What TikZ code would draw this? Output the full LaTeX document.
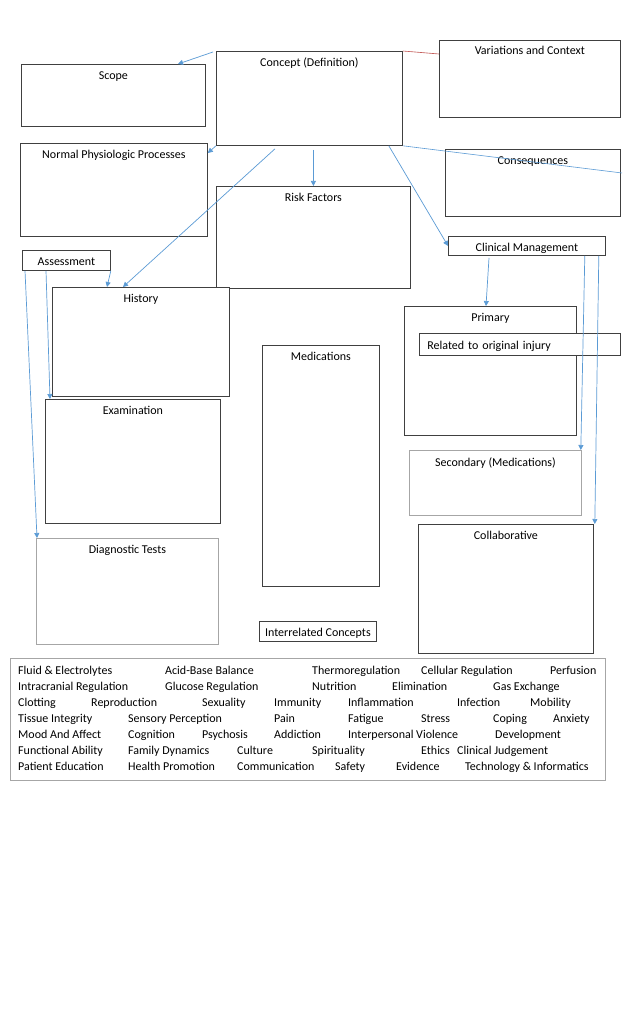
\documentclass[tikz,border=0pt]{standalone}
\usepackage{fontspec}
\setmainfont{Carlito}
\usepackage{tikz}
\usetikzlibrary{arrows.meta,positioning}
\definecolor{BoxLine}{HTML}{404040}
\definecolor{BoxGray}{HTML}{A6A6A6}
\definecolor{LinkBlue}{HTML}{5B9BD5}
\definecolor{LinkRed}{HTML}{C0504D}
\tikzset{
  box/.style={draw=BoxLine,line width=0.8pt,fill=white,anchor=north west,inner sep=0pt,text height=10.5pt,text depth=0pt},
  ttl/.style={inner sep=0pt,text height=8pt,text depth=2pt},
  item/.style={anchor=west,inner sep=0pt,text height=8pt,text depth=0pt},
  link/.style={draw=LinkBlue,line width=0.7pt,-{Triangle[length=5pt,width=5pt]}},
}
\begin{document}
\begin{tikzpicture}[x=1pt,y=-1pt,font=\fontsize{12}{14}\selectfont]
  \useasboundingbox[fill=white] (0,0) rectangle (622,1024);
  % top row
  \node[box,minimum width=184,minimum height=62] (scope) at (21,64) {};
  \node[box,minimum width=186,minimum height=94] (concept) at (216,51) {};
  \node[box,minimum width=181,minimum height=77] (var) at (439,40) {};
  \node[box,minimum width=187,minimum height=93] (normal) at (20,143) {};
  \node[box,minimum width=175,minimum height=67] (conseq) at (445,149) {};
  \node[box,minimum width=194,minimum height=102] (risk) at (216,186) {};
  \node[ttl,below=7pt of scope.north] (scopeT) {Scope};
  \node[ttl,below=7pt of concept.north] (conceptT) {Concept (Definition)};
  \node[ttl,below=6pt of var.north] (varT) {Variations and Context};
  \node[ttl,below=7pt of normal.north] (normalT) {Normal Physiologic Processes};
  \node[ttl,below=7pt of conseq.north] (conseqT) {Consequences};
  \node[ttl,below=7pt of risk.north] (riskT) {Risk Factors};
  % assessment side
  \node[box,minimum width=177,minimum height=109] (history) at (52,287) {};
  \node[box,minimum width=175,minimum height=124] (exam) at (45,399) {};
  \node[box,draw=BoxGray,minimum width=182,minimum height=106] (diag) at (36,538) {};
  \node[box,minimum width=88,minimum height=20] (assess) at (22,250) {Assessment};
  \node[ttl,below=7pt of history.north] (historyT) {History};
  \node[ttl,below=7pt of exam.north] (examT) {Examination};
  \node[ttl,below=7pt of diag.north] (diagT) {Diagnostic Tests};
  % middle
  \node[box,minimum width=117,minimum height=241] (meds) at (262,345) {};
  \node[ttl,below=7pt of meds.north] (medsT) {Medications};
  \node[box,minimum width=117,minimum height=20] (interrel) at (259,621) {Interrelated Concepts};
  % management side
  \node[box,minimum width=157,minimum height=19] (clinical) at (448,236) {Clinical Management};
  \node[box,minimum width=172,minimum height=129] (primary) at (404,306) {};
  \node[ttl,below=7pt of primary.north] (primaryT) {Primary};
  \node[box,minimum width=201,minimum height=22,text width=185,inner xsep=8pt,align=left] (related) at (419,333) {Related to original injury};
  \node[box,draw=BoxGray,minimum width=172,minimum height=65] (second) at (409,450) {};
  \node[ttl,below=8pt of second.north] (secondT) {Secondary (Medications)};
  \node[box,minimum width=175,minimum height=129] (collab) at (418,524) {};
  \node[ttl,below=7pt of collab.north] (collabT) {Collaborative};

  % connectors
  \draw[LinkRed,line width=0.6pt] (concept.north east) -- ([yshift=-14pt]var.north west);
  \draw[LinkBlue,line width=0.6pt] (concept.south east) -- (622,173) coordinate (conseqEnd);
  \draw[link] ([xshift=-3pt,yshift=-1pt]concept.north west) -- ([xshift=157pt]scope.north west);
  \draw[link] (concept.south west) -- ([yshift=-10pt]normal.north east);
  \draw[link] ([xshift=59pt,yshift=-3pt]concept.south west) -- ([xshift=71pt]history.north west);
  \draw[link] ([xshift=4pt,yshift=-4pt]concept.south) -- (risk.north);
  \draw[link] ([xshift=-14pt]concept.south east) -- (clinical.west);
  \draw[link] (assess.south east) -- ([xshift=55pt]history.north west);
  \draw[link] ([xshift=24pt]assess.south west) -- ([xshift=5pt]exam.north west);
  \draw[link] ([xshift=3pt]assess.south west) -- ([xshift=1pt]diag.north west);
  \draw[link] ([xshift=41pt,yshift=-2pt]clinical.south west) -- ([xshift=82pt]primary.north west);
  \draw[link] ([xshift=-21pt]clinical.south east) -- ([xshift=-1pt]second.north east);
  \draw[link] ([xshift=-7pt]clinical.south east) -- ([xshift=1pt]collab.north east);

  % interrelated concepts list
  \node[box,draw=BoxGray,minimum width=595,minimum height=122] (list) at (10,658) {};
  \foreach \cx/\cy/\ctext [count=\k] in {
    18/670/Fluid \& Electrolytes, 165/670/Acid-Base Balance, 312/670/Thermoregulation, 421/670/Cellular Regulation, 550/670/Perfusion,
    18/686/Intracranial Regulation, 165/686/Glucose Regulation, 312/686/Nutrition, 392/686/Elimination, 493/686/Gas Exchange,
    18/702/Clotting, 91/702/Reproduction, 202/702/Sexuality, 274/702/Immunity, 348/702/Inflammation, 457/702/Infection, 530/702/Mobility,
    18/718/Tissue Integrity, 128/718/Sensory Perception, 274/718/Pain, 348/718/Fatigue, 421/718/Stress, 493/718/Coping, 553/718/Anxiety,
    18/734/Mood And Affect, 128/734/Cognition, 202/734/Psychosis, 274/734/Addiction, 348/734/Interpersonal Violence, 495/734/Development,
    18/750/Functional Ability, 128/750/Family Dynamics, 237/750/Culture, 312/750/Spirituality, 421/750/Ethics, 457/750/Clinical Judgement,
    18/766/Patient Education, 128/766/Health Promotion, 237/766/Communication, 335/766/Safety, 396/766/Evidence, 465/766/Technology \& Informatics}
    \node[item] (ic\k) at (\cx,\cy) {\ctext};
\end{tikzpicture}
\end{document}
